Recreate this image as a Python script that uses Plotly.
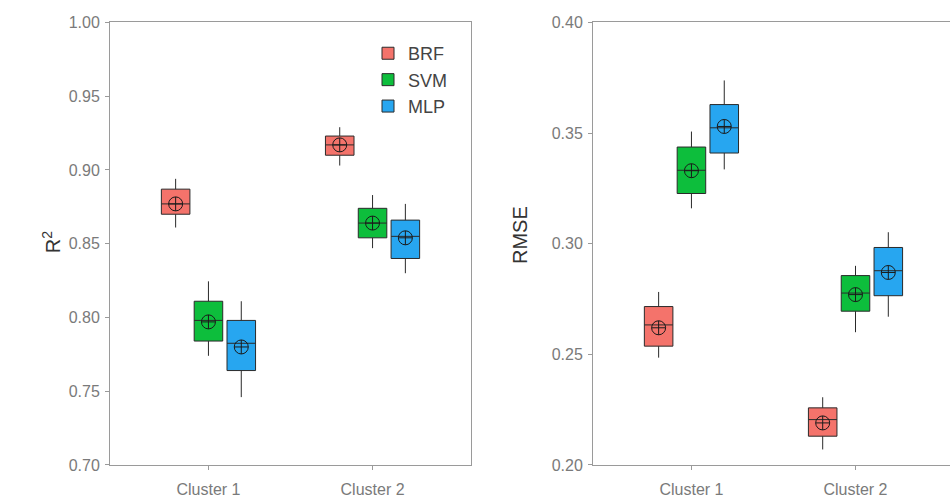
import plotly.graph_objects as go

clusters = ["Cluster 1", "Cluster 2"]
models = ["BRF", "SVM", "MLP"]
colors = {"BRF": "#F4736B", "SVM": "#0DBE3C", "MLP": "#27A6F0"}

# R2 panel: per model, per cluster
r2_low = {"BRF": [0.861, 0.903], "SVM": [0.774, 0.847], "MLP": [0.746, 0.830]}
r2_q1 = {"BRF": [0.870, 0.910], "SVM": [0.784, 0.854], "MLP": [0.764, 0.840]}
r2_med = {"BRF": [0.877, 0.917], "SVM": [0.798, 0.864], "MLP": [0.7825, 0.855]}
r2_q3 = {"BRF": [0.887, 0.923], "SVM": [0.811, 0.874], "MLP": [0.798, 0.866]}
r2_high = {"BRF": [0.894, 0.929], "SVM": [0.8245, 0.883], "MLP": [0.811, 0.877]}
r2_mean = {"BRF": [0.877, 0.917], "SVM": [0.797, 0.864], "MLP": [0.780, 0.854]}

# RMSE panel
rm_low = {"BRF": [0.2485, 0.207], "SVM": [0.316, 0.260], "MLP": [0.3336, 0.267]}
rm_q1 = {"BRF": [0.2537, 0.213], "SVM": [0.3227, 0.2695], "MLP": [0.341, 0.2765]}
rm_med = {"BRF": [0.2633, 0.2205], "SVM": [0.3332, 0.2777], "MLP": [0.3524, 0.2878]}
rm_q3 = {"BRF": [0.2716, 0.2258], "SVM": [0.3437, 0.2856], "MLP": [0.3629, 0.2983]}
rm_high = {"BRF": [0.2782, 0.2306], "SVM": [0.3507, 0.290], "MLP": [0.3738, 0.3052]}
rm_mean = {"BRF": [0.262, 0.219], "SVM": [0.333, 0.277], "MLP": [0.353, 0.287]}

r2_ticks = [0.70, 0.75, 0.80, 0.85, 0.90, 0.95, 1.00]
rm_ticks = [0.20, 0.25, 0.30, 0.35, 0.40]

fig = go.Figure()

panels = [
    ("x", "y", r2_low, r2_q1, r2_med, r2_q3, r2_high, r2_mean, True),
    ("x2", "y2", rm_low, rm_q1, rm_med, rm_q3, rm_high, rm_mean, False),
]
for xa, ya, lo, q1, med, q3, hi, mn, show in panels:
    for m in models:
        fig.add_trace(go.Box(
            x=clusters, lowerfence=lo[m], q1=q1[m], median=med[m], q3=q3[m],
            upperfence=hi[m], name=m, legendgroup=m, showlegend=show,
            offsetgroup=m, fillcolor=colors[m],
            line=dict(color="#2a2a2a", width=1), whiskerwidth=0,
            xaxis=xa, yaxis=ya, hoverinfo="skip",
        ))
    for m in models:
        fig.add_trace(go.Scatter(
            x=clusters, y=mn[m], mode="markers", offsetgroup=m,
            marker=dict(symbol="circle-cross-open", size=14, color="#1a1a1a",
                        line=dict(width=1, color="#1a1a1a")),
            showlegend=False, xaxis=xa, yaxis=ya, hoverinfo="skip",
        ))

tick_font = dict(family="Liberation Sans, Arial", size=16, color="#7a7a7a")
axis_common = dict(showline=True, linecolor="#9a9a9a", linewidth=1,
                   ticks="outside", ticklen=4, tickcolor="#9a9a9a",
                   showgrid=False, zeroline=False, tickfont=tick_font)

H = 501.0
W = 950.0
ydom = [(H - 473) / H, (H - 15) / H]

fig.update_layout(
    width=950, height=501,
    margin=dict(l=0, r=0, t=0, b=0),
    paper_bgcolor="white", plot_bgcolor="white",
    boxmode="group", boxgap=0.4, boxgroupgap=0.13,
    scattermode="group", scattergap=0.4,
    xaxis=dict(domain=[110 / W, 471 / W], range=[-0.6, 1.6], type="category",
               mirror=True, anchor="y", ticklabelstandoff=6, **axis_common),
    yaxis=dict(domain=ydom, range=[0.70, 1.00], tickvals=r2_ticks,
               tickformat=".2f", mirror=True, anchor="x", ticklabelstandoff=2,
               **axis_common),
    xaxis2=dict(domain=[593 / W, 1.0], range=[-0.6, 1.576], type="category",
                mirror=True, anchor="y2", ticklabelstandoff=6, **axis_common),
    yaxis2=dict(domain=ydom, range=[0.20, 0.40], tickvals=rm_ticks,
                tickformat=".2f", mirror=False, anchor="x2", ticklabelstandoff=2,
                **axis_common),
    legend=dict(x=368 / W, y=1 - 28 / H, xanchor="left", yanchor="top",
                bgcolor="rgba(0,0,0,0)", itemwidth=30, tracegroupgap=0,
                font=dict(family="Liberation Sans, Arial", size=18, color="#444444")),
    annotations=[
        dict(text="R<sup>2</sup>", x=37 / W, y=1 - 243 / H, xref="paper", yref="paper",
             showarrow=False, textangle=-90,
             font=dict(family="Liberation Sans, Arial", size=20, color="#333333")),
        dict(text="RMSE", x=520 / W, y=1 - 235 / H, xref="paper", yref="paper",
             showarrow=False, textangle=-90,
             font=dict(family="Liberation Sans, Arial", size=20, color="#333333")),
    ],
)

fig.write_html("out.html")
